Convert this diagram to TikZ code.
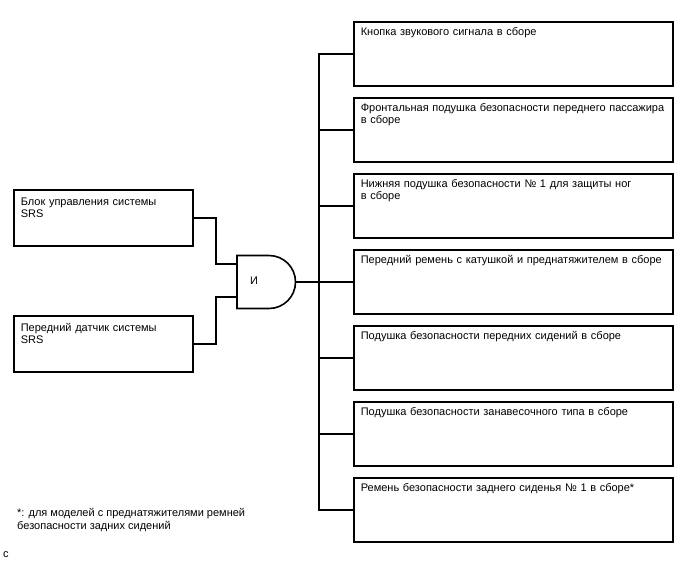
\documentclass[tikz,border=0pt]{standalone}
\usepackage{fontspec}
\setmainfont{Liberation Sans}
\usepackage{tikz}
\usetikzlibrary{positioning}

\begin{document}
\begin{tikzpicture}[
  x=1pt, y=-1pt,
  font=\fontsize{11}{12.4}\selectfont,
  node distance=10pt,
  rbox/.style={draw, line width=1.6pt, text width=305pt, align=left,
    inner xsep=7pt, inner ysep=6pt, text height=7.5pt, text depth=44.9pt},
  lbox/.style={draw, line width=1.6pt, text width=165pt, align=left,
    inner xsep=7pt, inner ysep=6pt, text height=9.5pt, text depth=34.9pt},
  wire/.style={line width=1.3pt},
  gate/.style={line width=1.6pt, line join=miter}
]
  \useasboundingbox (0,0) rectangle (688,560);

  % output side
  \node[rbox, anchor=north west] (horn) at (353,21) {Кнопка звукового сигнала в сборе};
  \node[rbox, below=of horn] (passbag) {Фронтальная подушка безопасности переднего пассажира\\в сборе};
  \node[rbox, below=of passbag] (kneebag) {Нижняя подушка безопасности № 1 для защиты ног\\в сборе};
  \node[rbox, below=of kneebag] (frbelt) {Передний ремень с катушкой и преднатяжителем в сборе};
  \node[rbox, below=of frbelt] (sidebag) {Подушка безопасности передних сидений в сборе};
  \node[rbox, below=of sidebag] (curtain) {Подушка безопасности занавесочного типа в сборе};
  \node[rbox, below=of curtain] (rearbelt) {Ремень безопасности заднего сиденья № 1 в сборе*};

  % input side
  \node[lbox, anchor=north west] (ecu) at (13,189) {Блок управления системы\\SRS};
  \node[lbox, anchor=north west] (sensor) at (13,315) {Передний датчик системы\\SRS};

  % AND gate
  \draw[gate] (237,255.5) -- (269,255.5) arc[start angle=90, end angle=-90, radius=26.5pt]
    -- (237,308.5) -- cycle;
  \coordinate (gtin) at (237,264);
  \coordinate (gbin) at (237,297);
  \coordinate (gout) at (295.5,282);
  \node (andl) at (254,281) {И};

  \draw[wire] (ecu.east) -| ([xshift=-21pt]gtin) -- (gtin);
  \draw[wire] (sensor.east) -| ([xshift=-21pt]gbin) -- (gbin);
  \draw[wire] (gout) -- (frbelt.west);

  % bus
  \draw[wire] (horn.west) -- ++(-34,0) |- (rearbelt.west);
  \draw[wire] (passbag.west) -- ++(-34,0);
  \draw[wire] (kneebag.west) -- ++(-34,0);
  \draw[wire] (sidebag.west) -- ++(-34,0);
  \draw[wire] (curtain.west) -- ++(-34,0);

  \node[anchor=north west, align=left, inner sep=0pt] (note) at (17,508.5)
    {*: для моделей с преднатяжителями ремней\\безопасности задних сидений};
  \node[anchor=base west, inner sep=0pt] (code) at (3,557) {c};
\end{tikzpicture}
\end{document}
